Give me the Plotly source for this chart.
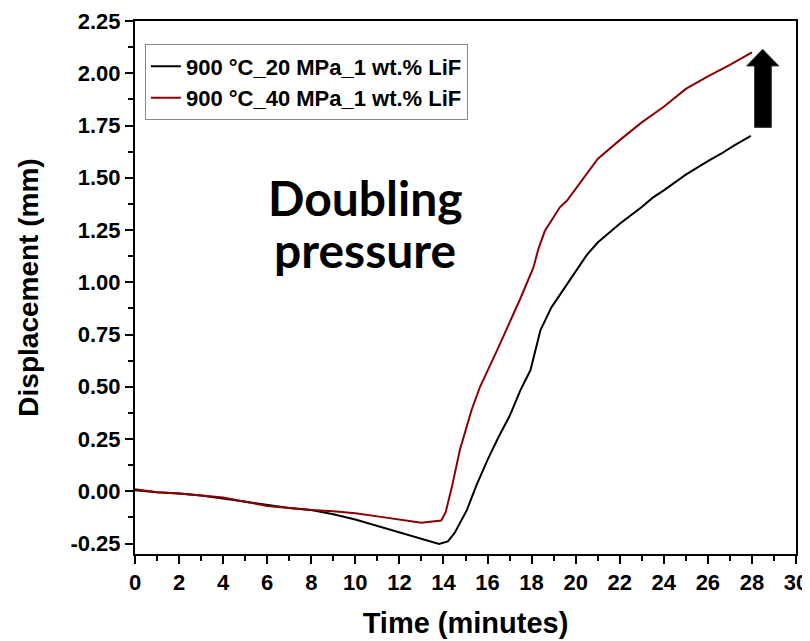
import plotly.graph_objects as go

# 900 °C, 20 MPa
t_20 = [0, 1, 2, 3, 4, 5, 6, 7, 8, 9, 10, 11, 12, 13, 13.8, 14.2, 14.5, 15.06, 15.5, 16, 16.5,
        17, 17.5, 17.95, 18.15, 18.4, 18.9, 19.15, 19.9, 20.5, 21, 22, 23, 23.5, 24, 25, 26,
        26.6, 27.2, 27.95]
d_20 = [0.005, -0.005, -0.01, -0.02, -0.035, -0.05, -0.065, -0.08, -0.09, -0.11, -0.135, -0.165,
        -0.195, -0.225, -0.252, -0.24, -0.2, -0.09, 0.03, 0.15, 0.26, 0.36, 0.485, 0.58, 0.67,
        0.77, 0.88, 0.92, 1.04, 1.13, 1.19, 1.28, 1.36, 1.405, 1.44, 1.515, 1.58, 1.615, 1.655,
        1.70]

# 900 °C, 40 MPa
t_40 = [0, 1, 2, 3, 4, 5, 6, 7, 8, 9, 10, 11, 12, 13, 13.9, 14.1, 14.38, 14.75, 15.28, 15.66,
        16.5, 17.48, 18.08, 18.31, 18.6, 19.29, 19.6, 20.5, 21, 22, 23, 24, 25, 26, 27, 28]
d_40 = [0.01, -0.005, -0.01, -0.02, -0.03, -0.05, -0.07, -0.08, -0.09, -0.095, -0.105, -0.12,
        -0.135, -0.15, -0.14, -0.1, 0.02, 0.2, 0.39, 0.5, 0.69, 0.92, 1.07, 1.16, 1.245, 1.36,
        1.39, 1.52, 1.59, 1.68, 1.765, 1.84, 1.925, 1.985, 2.04, 2.10]

names = ["900 °C_20 MPa_1 wt.% LiF", "900 °C_40 MPa_1 wt.% LiF"]
colors = ["#000000", "#8B0000"]

x_ticks = list(range(0, 31, 2))
y_ticks = [-0.25, 0.0, 0.25, 0.5, 0.75, 1.0, 1.25, 1.5, 1.75, 2.0, 2.25]
y_tick_text = [f"{v:.2f}" for v in y_ticks]

fig = go.Figure()
for t, d, n, c in zip([t_20, t_40], [d_20, d_40], names, colors):
    fig.add_trace(go.Scatter(x=t, y=d, mode="lines", name="<b>" + n + "</b>",
                             line=dict(color=c, width=2)))

# Up arrow (annotation graphic) in data coordinates
ax0, ax1 = 28.12, 28.88
hx0, hx1, tip_x = 27.76, 29.22, 28.49
yb, yh, yt = 1.741, 2.035, 2.115
fig.add_shape(type="path",
              path=f"M {ax0} {yb} L {ax1} {yb} L {ax1} {yh} L {hx1} {yh} L {tip_x} {yt} "
                   f"L {hx0} {yh} L {ax0} {yh} Z",
              xref="x", yref="y", fillcolor="black", line=dict(color="#333", width=1))

for txt, yp in [("Doubling", 0.668), ("pressure", 0.572)]:
    fig.add_annotation(x=0.348, y=yp, xref="paper", yref="paper",
                       text="<b>" + txt + "</b>", showarrow=False,
                       xanchor="center", yanchor="middle",
                       font=dict(family="Lato", size=48, color="black"))

tick_font = dict(family="Liberation Sans", size=22, color="black")
axis_common = dict(showline=True, linecolor="black", linewidth=2, mirror=True,
                   ticks="outside", ticklen=8, tickwidth=2, tickcolor="black",
                   showgrid=False, zeroline=False, automargin=False,
                   tickfont=tick_font)

fig.update_xaxes(range=[0, 30], tickvals=x_ticks, ticktext=[f"<b>{v}</b>" for v in x_ticks],
                 minor=dict(dtick=1, ticks="outside", ticklen=5, tickwidth=2, tickcolor="black"),
                 title=dict(text="<b>Time (minutes)</b>",
                            font=dict(family="Liberation Sans", size=29, color="black"),
                            standoff=18),
                 **axis_common)
fig.update_yaxes(range=[-0.30, 2.25], tickvals=y_ticks,
                 ticktext=[f"<b>{s}</b>" for s in y_tick_text],
                 minor=dict(dtick=0.125, tick0=0, ticks="outside", ticklen=5, tickwidth=2,
                            tickcolor="black"),
                 title=dict(text="<b>Displacement (mm)</b>",
                            font=dict(family="Liberation Sans", size=28, color="black"),
                            standoff=24),
                 **axis_common)

fig.update_layout(
    width=810, height=641,
    margin=dict(l=127, r=22, t=13, b=95),
    plot_bgcolor="white", paper_bgcolor="white",
    legend=dict(x=0.015, y=0.956, xanchor="left", yanchor="top",
                bgcolor="white", bordercolor="#888888", borderwidth=1,
                font=dict(family="Liberation Sans", size=22, color="black"),
                tracegroupgap=0, itemwidth=30),
    showlegend=True,
)

fig.write_html("out.html")
